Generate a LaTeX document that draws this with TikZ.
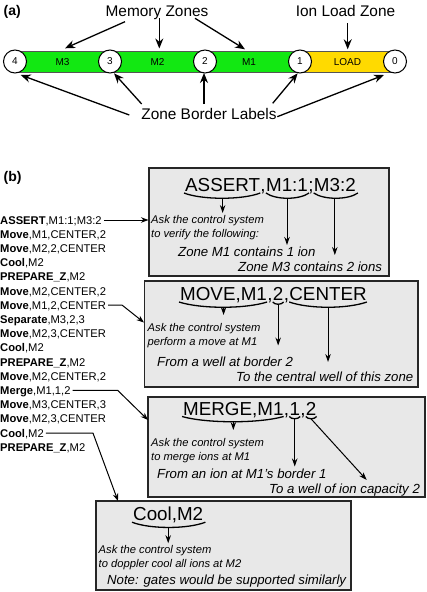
\documentclass[tikz,border=0pt]{standalone}
\usepackage{fontspec}
\setmainfont{Liberation Sans}
\usetikzlibrary{arrows.meta,calc}
\definecolor{zgreen}{RGB}{18,232,18}
\definecolor{zyellow}{RGB}{255,218,0}
\definecolor{boxgray}{RGB}{232,232,232}
\definecolor{edgegray}{RGB}{85,85,85}
\begin{document}
\begin{tikzpicture}[x=1pt,y=-1pt,
  arra/.style={line width=1.3pt,-{Stealth[length=10pt,width=8pt]}},
  arrb/.style={line width=1pt,-{Stealth[length=7.5pt,width=5.5pt]}},
  arrc/.style={line width=1pt,-{Stealth[length=8pt,width=5.5pt]}},
  zbrace/.style={line width=1.3pt},
  zlst/.style={anchor=base west,inner sep=0pt,font=\fontsize{11.2}{13}\selectfont},
  zhead/.style={anchor=base west,inner sep=0pt,font=\fontsize{18.8}{20}\selectfont},
  zsm/.style={anchor=base west,inner sep=0pt,font=\fontsize{11.2}{13}\selectfont\itshape},
  zmd/.style={anchor=base west,inner sep=0pt,font=\fontsize{13.2}{15}\selectfont\itshape},
  zbig/.style={anchor=base,inner sep=0pt,font=\fontsize{15.4}{17}\selectfont},
  zlab/.style={anchor=base,inner sep=0pt,font=\fontsize{10}{12}\selectfont},
  zbrd/.style={circle,draw=black,fill=white,line width=1pt,minimum size=23pt,inner sep=0pt,font=\fontsize{10}{12}\selectfont},
  zpanel/.style={draw=black!85,fill=boxgray,line width=1.1pt,inner sep=0pt},
  ztag/.style={anchor=base west,inner sep=0pt,font=\fontsize{14}{16}\selectfont\bfseries}]
\useasboundingbox (0,0) rectangle (427,592);

% ---------------- (a) ----------------
\node[ztag] (taga) at (3.5,15) {(a)};
\node[zbig] (mz) at (157,16.5) {Memory Zones};
\node[zbig] (ilz) at (345.5,16.5) {Ion Load Zone};
\node[zbig] (zbl) at (209,119.3) {Zone Border Labels};

\fill[zgreen] (15,51) rectangle (300,72);
\fill[zyellow] (300,51) rectangle (395,72);
\draw[edgegray,line width=1pt] (15,51) -- (395,51) (15,72) -- (395,72);

\node[zbrd] (c4) at (15,61.5) {4};
\node[zbrd] (c3) at (110,61.5) {3};
\node[zbrd] (c2) at (205,61.5) {2};
\node[zbrd] (c1) at (300,61.5) {1};
\node[zbrd] (c0) at (395,61.5) {0};

\node[zlab] (m3) at (62.5,65) {M3};
\node[zlab] (m2) at (157.5,65) {M2};
\node[zlab] (m1) at (249,65) {M1};
\node[zlab] (ld) at (347.5,65) {LOAD};

\coordinate (s1) at (125,21.7);   \coordinate (t1) at (65,48.3);
\coordinate (s2) at (159.3,18);   \coordinate (t2) at (159.3,48.5);
\coordinate (s3) at (195,18.3);   \coordinate (t3) at (245,49.3);
\coordinate (s4) at (347.7,23);   \coordinate (t4) at (347.7,49.3);
\draw[arra] (s1) -- (t1);
\draw[arra] (s2) -- (t2);
\draw[arra] (s3) -- (t3);
\draw[arra] (s4) -- (t4);

\coordinate (u4) at (129.3,115);  \coordinate (v4) at (20.7,75);
\coordinate (u3) at (141.7,104);  \coordinate (v3) at (114,73.3);
\coordinate (u2) at (204,104);    \coordinate (v2) at (204,73);
\coordinate (u1) at (272.7,103.3);\coordinate (v1) at (297.7,73.3);
\coordinate (u0) at (277.3,116.7);\coordinate (v0) at (384,75);
\draw[arra] (u4) -- (v4);
\draw[arra] (u3) -- (v3);
\draw[arra] (u2) -- (v2);
\draw[arra] (u1) -- (v1);
\draw[arra] (u0) -- (v0);

% ---------------- (b) ----------------
\node[ztag] (tagb) at (3.5,181) {(b)};

\node[zpanel,minimum width=240pt,minimum height=108pt] (b1) at (269,222) {};
\node[zpanel,minimum width=273.5pt,minimum height=106pt] (b2) at (281.25,334) {};
\node[zpanel,minimum width=277pt,minimum height=100pt] (b3) at (286.5,447) {};
\node[zpanel,minimum width=255pt,minimum height=89pt] (b4) at (223.5,545.5) {};

% command list
\node[zlst] (l1)  at (0,224.0) {\textbf{ASSERT},M1:1;M3:2};
\node[zlst] (l2)  at (0,238.2) {\textbf{Move},M1,CENTER,2};
\node[zlst] (l3)  at (0,252.4) {\textbf{Move},M2,2,CENTER};
\node[zlst] (l4)  at (0,266.6) {\textbf{Cool},M2};
\node[zlst] (l5)  at (0,280.8) {\textbf{PREPARE\_Z},M2};
\node[zlst] (l6)  at (0,295.0) {\textbf{Move},M2,CENTER,2};
\node[zlst] (l7)  at (0,309.2) {\textbf{Move},M1,2,CENTER};
\node[zlst] (l8)  at (0,323.4) {\textbf{Separate},M3,2,3};
\node[zlst] (l9)  at (0,337.6) {\textbf{Move},M2,3,CENTER};
\node[zlst] (l10) at (0,351.8) {\textbf{Cool},M2};
\node[zlst] (l11) at (0,366.0) {\textbf{PREPARE\_Z},M2};
\node[zlst] (l12) at (0,380.2) {\textbf{Move},M2,CENTER,2};
\node[zlst] (l13) at (0,394.4) {\textbf{Merge},M1,1,2};
\node[zlst] (l14) at (0,408.6) {\textbf{Move},M3,CENTER,3};
\node[zlst] (l15) at (0,422.8) {\textbf{Move},M2,3,CENTER};
\node[zlst] (l16) at (0,437.0) {\textbf{Cool},M2};
\node[zlst] (l17) at (0,451.2) {\textbf{PREPARE\_Z},M2};

\coordinate (b2in) at (144,322.5);
\coordinate (b3in) at (148,420);
\coordinate (b4in) at (118,501);
\draw[arrb] ($(l1.base east)+(2,-4)$) -- (b1.west |- {$(l1.base east)+(2,-4)$});
\draw[arrb] ($(l7.base east)+(2,-4)$) -- ++(14,0) -- (b2in);
\draw[arrb] ($(l13.base east)+(2,-4)$) -- ++(45,0) -- (b3in);
\draw[arrb] ($(l16.base east)+(2,-4)$) -- ++(47,0) -- (b4in);

% box 1 : ASSERT
\node[zhead] (h1a) at (185,191.5) {ASSERT};
\node[zhead] (h1b) at (h1a.base east) {,};
\node[zhead] (h1c) at (h1b.base east) {M1:1};
\node[zhead] (h1d) at (h1c.base east) {;};
\node[zhead] (h1e) at (h1d.base east) {M3:2};
\draw[zbrace] ($(h1a.base west)+(-1,1.5)$) .. controls +(18,7) and +(-18,7) .. ($(h1a.base east)+(0,1.5)$);
\draw[zbrace] ($(h1c.base west)+(0,1.5)$) .. controls +(10,7) and +(-10,7) .. ($(h1c.base east)+(1,1.5)$);
\draw[zbrace] ($(h1e.base west)+(0,1.5)$) .. controls +(10,7) and +(-10,7) .. ($(h1e.base east)+(2,1.5)$);
\draw[arrc] ($(h1a.base)+(0,6.5)$) -- ++(0,15);
\draw[arrc] ($(h1c.base)+(0,6.5)$) -- ++(0,47);
\draw[arrc] ($(h1e.base)+(0,6.5)$) -- ++(0,57);
\node[zsm] (a1) at (151,223) {Ask the control system};
\node[zsm] (a2) at (151,237.5) {to verify the following:};
\node[zmd] (a3) at (178,256.7) {Zone M1 contains 1 ion};
\node[zmd] (a4) at (238,271.7) {Zone M3 contains 2 ions};

% box 2 : MOVE
\node[zhead] (h2a) at (180,300.5) {MOVE,M1};
\node[zhead] (h2b) at (h2a.base east) {,};
\node[zhead] (h2c) at (h2b.base east) {2};
\node[zhead] (h2d) at (h2c.base east) {,};
\node[zhead] (h2e) at (h2d.base east) {CENTER};
\draw[zbrace] ($(h2a.base west)+(-1,1.5)$) .. controls +(22,7) and +(-22,7) .. ($(h2a.base east)+(0,1.5)$);
\draw[zbrace] ($(h2c.base west)+(0,1.5)$) .. controls +(2,3) and +(-2,3) .. ($(h2c.base east)+(0,1.5)$);
\draw[zbrace] ($(h2e.base west)+(0,1.5)$) .. controls +(20,7) and +(-20,7) .. ($(h2e.base east)+(0,1.5)$);
\draw[arrc] ($(h2a.base)+(0,6.5)$) -- ++(0,8);
\draw[arrc] ($(h2c.base)+(0,4)$) -- ++(0,41);
\draw[arrc] ($(h2e.base)+(0,6.5)$) -- ++(0,55);
\node[zsm] (a5) at (147.5,331.3) {Ask the control system};
\node[zsm] (a6) at (147.5,345.5) {perform a move at M1};
\node[zmd] (a7) at (157,366) {From a well at border 2};
\node[zmd] (a8) at (236,381.7) {To the central well of this zone};

% box 3 : MERGE
\node[zhead] (h3a) at (183,415) {MERGE,M1};
\node[zhead] (h3b) at (h3a.base east) {,};
\node[zhead] (h3c) at (h3b.base east) {1};
\node[zhead] (h3d) at (h3c.base east) {,};
\node[zhead] (h3e) at (h3d.base east) {2};
\coordinate (t3e) at (366.7,480);
\draw[zbrace] ($(h3a.base west)+(-1,1.5)$) .. controls +(25,7) and +(-25,7) .. ($(h3a.base east)+(0,1.5)$);
\draw[zbrace] ($(h3c.base west)+(0,1.5)$) .. controls +(2,3) and +(-2,3) .. ($(h3c.base east)+(0,1.5)$);
\draw[zbrace] ($(h3e.base west)+(0,1.5)$) .. controls +(2,3) and +(-2,3) .. ($(h3e.base east)+(0,1.5)$);
\draw[arrc] ($(h3a.base)+(0,6.5)$) -- ++(0,8.5);
\draw[arrc] ($(h3c.base)+(0,4)$) -- ++(0,47.5);
\draw[arrc] ($(h3e.base)+(0,4)$) -- (t3e);
\node[zsm] (a9) at (151,446.7) {Ask the control system};
\node[zsm] (a10) at (151,460.5) {to merge ions at M1};
\node[zmd] (a11) at (157,478.3) {From an ion at M1's border 1};
\node[zmd] (a12) at (269,493.3) {To a well of ion capacity 2};

% box 4 : Cool
\node[zhead] (h4a) at (133,520.7) {Cool,M2};
\draw[zbrace] ($(h4a.base west)+(-1,1.5)$) .. controls +(18,7) and +(-18,7) .. ($(h4a.base east)+(2,1.5)$);
\draw[arrc] ($(h4a.base)+(0,6.5)$) -- ++(0,16);
\node[zsm] (a13) at (98.5,553) {Ask the control system};
\node[zsm] (a14) at (98.5,567.3) {to doppler cool all ions at M2};
\node[zmd] (a15) at (107,584) {Note: gates would be supported similarly};
\end{tikzpicture}
\end{document}
